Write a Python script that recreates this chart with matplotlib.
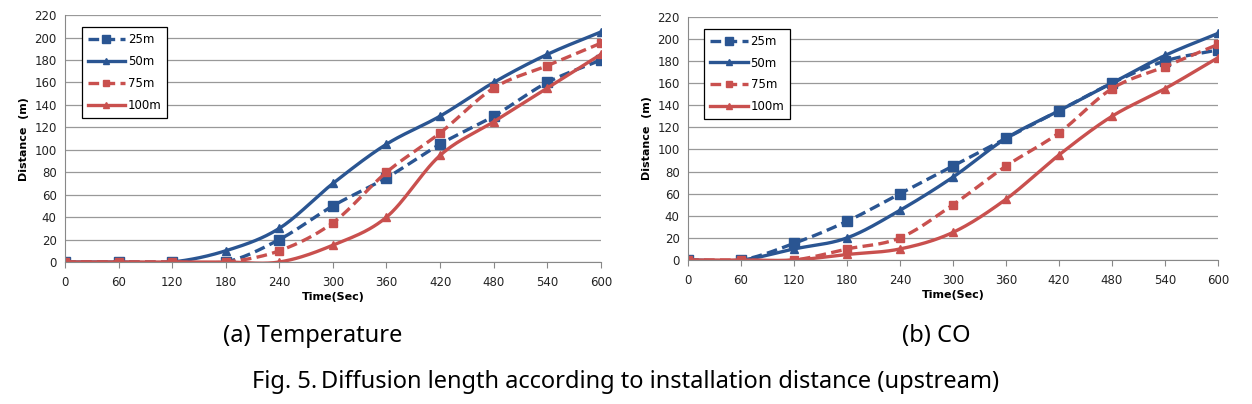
import matplotlib
matplotlib.use("Agg")
from matplotlib import pyplot as plt
import numpy as np

times = [0, 60, 120, 180, 240, 300, 360, 420, 480, 540, 600]
labels = ["25m", "50m", "75m", "100m"]

# (a) Temperature
temp_25 = [0, 0, 0, 0, 20, 50, 75, 105, 130, 160, 180]
temp_50 = [0, 0, 0, 10, 30, 70, 105, 130, 160, 185, 205]
temp_75 = [0, 0, 0, 0, 10, 35, 80, 115, 155, 175, 195]
temp_100 = [0, 0, 0, 0, 0, 15, 40, 95, 125, 155, 185]

# (b) CO
co_25 = [0, 0, 15, 35, 60, 85, 110, 135, 160, 180, 190]
co_50 = [0, 0, 10, 20, 45, 75, 110, 135, 160, 185, 205]
co_75 = [0, 0, 0, 10, 20, 50, 85, 115, 155, 175, 195]
co_100 = [0, 0, 0, 5, 10, 25, 55, 95, 130, 155, 183]

blue = "#2a5592"
red = "#c9504e"
styles = [
    dict(color=blue, ls=(0, (3.2, 1.6)), marker="s", ms=7),
    dict(color=blue, ls="-", marker="^", ms=6),
    dict(color=red, ls=(0, (3.2, 1.6)), marker="s", ms=6),
    dict(color=red, ls="-", marker="^", ms=6),
]


def smooth(x, y, n=30):
    # catmull-rom curve through the points, like excel's smoothed line
    x = np.asarray(x, float)
    y = np.asarray(y, float)
    px = np.concatenate([[2 * x[0] - x[1]], x, [2 * x[-1] - x[-2]]])
    py = np.concatenate([[2 * y[0] - y[1]], y, [2 * y[-1] - y[-2]]])
    xs, ys = [], []
    t = np.linspace(0, 1, n)
    for i in range(1, len(px) - 2):
        for p, out in ((px, xs), (py, ys)):
            p0, p1, p2, p3 = p[i - 1], p[i], p[i + 1], p[i + 2]
            out.extend(0.5 * (2 * p1 + (-p0 + p2) * t
                              + (2 * p0 - 5 * p1 + 4 * p2 - p3) * t ** 2
                              + (-p0 + 3 * p1 - 3 * p2 + p3) * t ** 3))
    return xs, ys


def draw(ax, series):
    for y, lab, st in zip(series, labels, styles):
        sx, sy = smooth(times, y)
        ax.plot(sx, sy, color=st["color"], ls=st["ls"], lw=2.4)
        ax.plot(times, y, color=st["color"], ls="none", marker=st["marker"],
                ms=st["ms"])
        ax.plot([], [], color=st["color"], ls=st["ls"], lw=2.4,
                marker=st["marker"], ms=st["ms"] - 1, label=lab)
    ax.set_xlim(0, 600)
    ax.set_ylim(0, 220)
    ax.set_xticks(times)
    ax.set_yticks(range(0, 221, 20))
    ax.tick_params(axis="both", labelsize=8.5, colors="#222222")
    ax.tick_params(axis="y", length=0, pad=6)
    ax.tick_params(axis="x", length=4, color="#888888", pad=6)
    ax.grid(axis="y", color="#999999", lw=0.9)
    ax.set_axisbelow(True)
    for s in ["top", "right"]:
        ax.spines[s].set_visible(False)
    for s in ["left", "bottom"]:
        ax.spines[s].set_color("#888888")
    ax.set_xlabel("Time(Sec)", fontsize=8, fontweight="bold", labelpad=2)
    ax.set_ylabel("Distance  (m)", fontsize=8, fontweight="bold", labelpad=4)
    leg = ax.legend(loc="upper left", bbox_to_anchor=(0.02, 0.975),
                    fontsize=8.5, fancybox=False, framealpha=1,
                    edgecolor="black", handlelength=3.2, handletextpad=0.2,
                    borderpad=0.5, labelspacing=0.75)
    leg.get_frame().set_linewidth(0.9)


fig = plt.figure(figsize=(12.52, 4.04), dpi=100)
ax1 = fig.add_axes([0.0519, 0.3515, 0.428, 0.611])
ax2 = fig.add_axes([0.5495, 0.3564, 0.4233, 0.602])
draw(ax1, [temp_25, temp_50, temp_75, temp_100])
draw(ax2, [co_25, co_50, co_75, co_100])

fig.text(0.25, 0.168, "(a) Temperature", ha="center", va="center",
         fontsize=17, family="Noto Sans")
fig.text(0.748, 0.168, "(b) CO", ha="center", va="center",
         fontsize=17, family="Noto Sans")
fig.text(0.2532, 0.055, "Fig. 5.", ha="right", va="center", fontsize=17,
         family="Noto Sans", fontweight="bold")
fig.text(0.2566, 0.055,
         "Diffusion length according to installation distance (upstream)",
         ha="left", va="center", fontsize=17, family="Noto Sans")

fig.savefig("out.png", dpi=100)
